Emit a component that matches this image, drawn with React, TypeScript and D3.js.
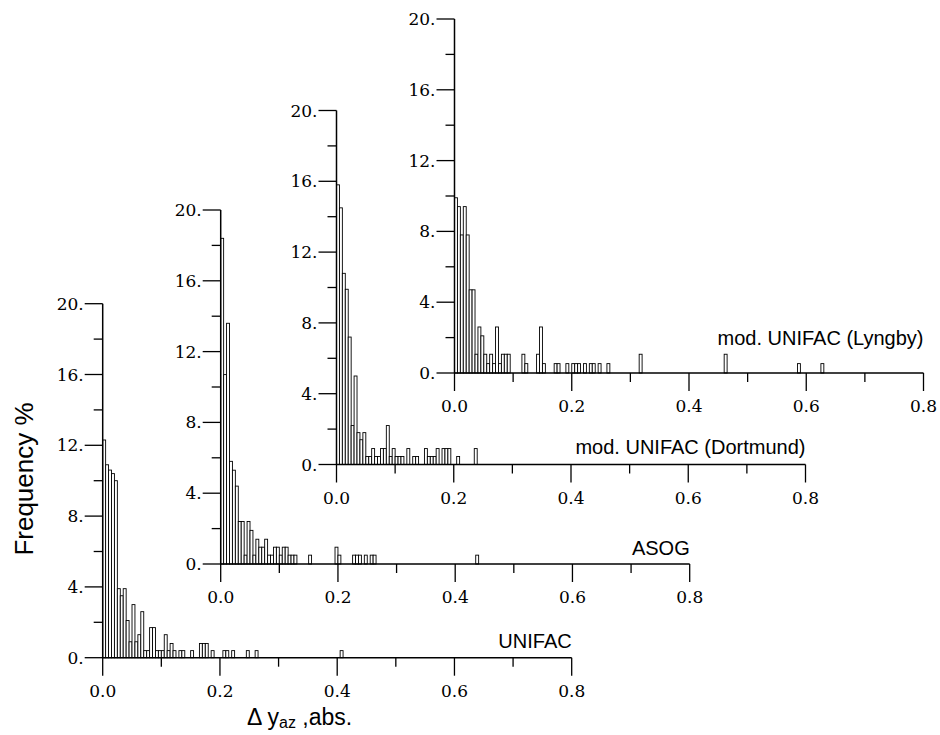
import React from 'react';
import * as d3 from 'd3';

// histogram bins: [lower edge of bin, frequency %], bin width 0.005
const binWidth = 0.005;

const unifac: [number, number][] = [
  [0, 12.3], [0.005, 10.9], [0.01, 10.6], [0.015, 10.4], [0.02, 10.0], [0.025, 3.9], [0.03, 3.5],
  [0.035, 3.9], [0.04, 2.1], [0.045, 0.9], [0.05, 3.0], [0.055, 0.9], [0.06, 1.3], [0.065, 2.6],
  [0.07, 0.4], [0.075, 0.4], [0.08, 1.7], [0.085, 1.7], [0.09, 0.4], [0.095, 0.4], [0.1, 0.4],
  [0.105, 1.3], [0.11, 0.4], [0.115, 0.8], [0.12, 0.4], [0.13, 0.4], [0.135, 0.4], [0.15, 0.4],
  [0.165, 0.8], [0.17, 0.8], [0.175, 0.8], [0.185, 0.4], [0.205, 0.4], [0.21, 0.4], [0.22, 0.4],
  [0.245, 0.4], [0.26, 0.4], [0.405, 0.4],
];

const asog: [number, number][] = [
  [0, 18.4], [0.005, 10.7], [0.01, 13.6], [0.015, 5.8], [0.02, 5.3], [0.025, 4.4], [0.03, 2.4],
  [0.035, 2.4], [0.04, 0.5], [0.045, 2.4], [0.05, 1.9], [0.055, 0.5], [0.06, 1.4], [0.065, 0.95],
  [0.07, 0.95], [0.075, 1.4], [0.08, 0.5], [0.085, 0.5], [0.09, 0.95], [0.095, 0.95], [0.1, 0.5],
  [0.105, 0.95], [0.11, 0.95], [0.115, 0.5], [0.12, 0.5], [0.125, 0.5], [0.15, 0.5], [0.195, 0.95],
  [0.2, 0.5], [0.225, 0.5], [0.23, 0.5], [0.235, 0.5], [0.245, 0.5], [0.255, 0.5], [0.26, 0.5],
  [0.435, 0.5],
];

const dortmund: [number, number][] = [
  [0, 15.8], [0.005, 14.5], [0.01, 10.8], [0.015, 9.9], [0.02, 7.2], [0.025, 2.2], [0.03, 5.0],
  [0.035, 1.8], [0.04, 1.4], [0.045, 1.8], [0.05, 0.45], [0.055, 0.45], [0.06, 0.9], [0.065, 0.45],
  [0.07, 0.45], [0.075, 0.9], [0.08, 0.9], [0.085, 2.2], [0.09, 0.45], [0.095, 0.9], [0.1, 0.45],
  [0.105, 0.45], [0.11, 0.45], [0.12, 0.9], [0.13, 0.45], [0.135, 0.45], [0.15, 0.9], [0.155, 0.45],
  [0.16, 0.45], [0.165, 0.45], [0.17, 0.9], [0.18, 0.9], [0.185, 0.9], [0.19, 0.9], [0.205, 0.45],
  [0.235, 0.9],
];

const lyngby: [number, number][] = [
  [0, 9.9], [0.005, 9.4], [0.01, 7.8], [0.015, 9.4], [0.02, 7.8], [0.025, 4.7], [0.03, 4.7],
  [0.035, 1.06], [0.04, 2.6], [0.045, 2.1], [0.05, 1.06], [0.055, 0.53], [0.06, 1.06], [0.065, 0.53],
  [0.07, 2.6], [0.075, 0.53], [0.08, 1.06], [0.085, 1.06], [0.09, 1.06], [0.115, 1.06], [0.12, 0.53],
  [0.14, 1.06], [0.145, 2.6], [0.15, 0.53], [0.17, 0.53], [0.175, 0.53], [0.19, 0.53], [0.2, 0.53],
  [0.205, 0.53], [0.21, 0.53], [0.22, 0.53], [0.23, 0.53], [0.235, 0.53], [0.245, 0.53], [0.26, 0.53],
  [0.315, 1.06], [0.46, 1.06], [0.585, 0.53], [0.625, 0.53],
];

const methodNames = ['UNIFAC', 'ASOG', 'mod. UNIFAC (Dortmund)', 'mod. UNIFAC (Lyngby)'];
const methodData = [unifac, asog, dortmund, lyngby];

const xTicks = [0, 0.1, 0.2, 0.3, 0.4, 0.5, 0.6, 0.7, 0.8];
const xTickLabels = ['0.0', '0.2', '0.4', '0.6', '0.8'];
const yTicks = [0, 2, 4, 6, 8, 10, 12, 14, 16, 18, 20];
const yTickLabels = ['0.', '4.', '8.', '12.', '16.', '20.'];

// each panel is stepped up and to the right
const panels = [
  { left: 102.7, base: 657.7, labelUp: 10 },
  { left: 220.7, base: 564, labelUp: 9 },
  { left: 336.5, base: 464.5, labelUp: 11 },
  { left: 454.5, base: 373, labelUp: 28 },
];
const W = 469;
const H = 354;

const serif = 'DejaVu Serif, serif';
const sans = 'Liberation Sans, Arial, sans-serif';

function Panel({ idx }: { idx: number }) {
  const p = panels[idx];
  const data = methodData[idx];
  const x = d3.scaleLinear().domain([0, 0.8]).range([p.left, p.left + W]);
  const y = d3.scaleLinear().domain([0, 20]).range([p.base, p.base - H]);

  return (
    <g>
      {data.map(([x0, f], i) => (
        <rect
          key={i}
          x={x(x0)}
          y={y(f)}
          width={x(x0 + binWidth) - x(x0)}
          height={y(0) - y(f)}
          fill="#fff"
          stroke="#000"
          strokeWidth={0.9}
        />
      ))}
      {/* y axis */}
      <line x1={x(0)} x2={x(0)} y1={y(0)} y2={y(20)} stroke="#000" strokeWidth={1.5} />
      {yTicks.map((t) => {
        const major = t % 4 === 0;
        return (
          <line key={t} x1={x(0) - (major ? 18 : 9)} x2={x(0)} y1={y(t)} y2={y(t)} stroke="#000" strokeWidth={1.3} />
        );
      })}
      {yTicks.filter((t) => t % 4 === 0).map((t, i) => (
        <text key={t} x={x(0) - 19} y={y(t) + 6} textAnchor="end" fontFamily={serif} fontSize={17}>
          {yTickLabels[i]}
        </text>
      ))}
      {/* x axis */}
      <line x1={x(0)} x2={x(0.8)} y1={y(0)} y2={y(0)} stroke="#000" strokeWidth={1.5} />
      {xTicks.map((t, i) => (
        <line key={t} x1={x(t)} x2={x(t)} y1={y(0)} y2={y(0) + (i % 2 === 0 ? 18 : 9)} stroke="#000" strokeWidth={1.3} />
      ))}
      {xTicks.filter((_, i) => i % 2 === 0).map((t, i) => (
        <text key={t} x={x(t)} y={y(0) + 39} textAnchor="middle" fontFamily={serif} fontSize={17}>
          {xTickLabels[i]}
        </text>
      ))}
      <text x={x(0.8)} y={y(0) - p.labelUp} textAnchor="end" fontFamily={sans} fontSize={20}>
        {methodNames[idx]}
      </text>
    </g>
  );
}

export default function App() {
  return (
    <div style={{ position: 'absolute', left: 0, top: 0 }}>
      <svg width={940} height={735} style={{ display: 'block', background: '#fff' }}>
        {[3, 2, 1, 0].map((i) => (
          <Panel key={i} idx={i} />
        ))}
        <text
          transform="translate(33,479) rotate(-90)"
          textAnchor="middle"
          fontFamily={sans}
          fontSize={26}
        >
          Frequency %
        </text>
        <text x={247} y={725} fontFamily={sans} fontSize={23}>
          Δ y<tspan fontSize={16} dy={3}>az</tspan>
          <tspan dy={-3}> ,abs.</tspan>
        </text>
      </svg>
    </div>
  );
}
